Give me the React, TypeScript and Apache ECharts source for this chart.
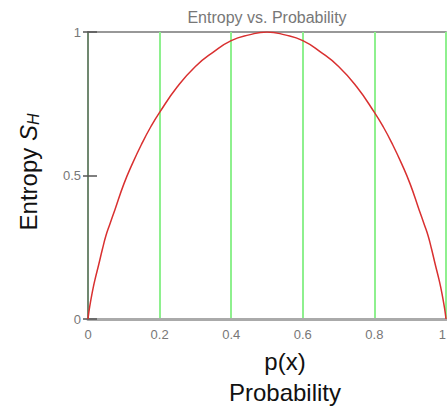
import React, { useEffect, useRef } from "react";
import * as echarts from "echarts";

const pValues = [0, 0.0025, 0.005, 0.01, 0.015, 0.02, 0.03, 0.04, 0.05, 0.06, 0.075, 0.1, 0.125, 0.15, 0.175, 0.2, 0.25, 0.3, 0.35, 0.4, 0.45, 0.5, 0.55, 0.6, 0.65, 0.7, 0.75, 0.8, 0.825, 0.85, 0.875, 0.9, 0.925, 0.94, 0.95, 0.96, 0.97, 0.98, 0.985, 0.99, 0.995, 0.9975, 1];
const entropyValues = [0, 0.025, 0.045, 0.08, 0.112, 0.14, 0.19, 0.242, 0.29, 0.327, 0.38, 0.47, 0.544, 0.61, 0.669, 0.72, 0.81, 0.88, 0.93, 0.97, 0.99, 1.0, 0.99, 0.97, 0.93, 0.88, 0.81, 0.72, 0.669, 0.61, 0.544, 0.47, 0.38, 0.327, 0.29, 0.242, 0.19, 0.14, 0.112, 0.08, 0.045, 0.025, 0];
const xTicks = [0, 0.2, 0.4, 0.6, 0.8, 1];
const yTicks = [0, 0.5, 1];
const titleText = "Entropy vs. Probability";
const xNameLines = ["p(x)", "Probability"];

export default function App() {
  const ref = useRef<HTMLDivElement>(null);
  useEffect(() => {
    if (!ref.current) return;
    const chart = echarts.init(ref.current, undefined, { renderer: "svg" });
    const gridLeft = 88, gridRight = 1, gridTop = 32, gridBottom = 90;
    const plotCenterX = gridLeft + (447 - gridLeft - gridRight) / 2;
    chart.setOption({
      animation: false,
      backgroundColor: "#ffffff",
      grid: { left: gridLeft, right: gridRight, top: gridTop, bottom: gridBottom, containLabel: false, outerBoundsMode: "none", show: true, borderColor: "#777", borderWidth: 1.5, backgroundColor: "transparent" },
      xAxis: {
        type: "value",
        min: xTicks[0],
        max: xTicks[xTicks.length - 1],
        interval: 0.2,
        axisLine: { show: true, lineStyle: { color: "#aaa", width: 3 } },
        axisTick: { show: false },
        axisLabel: { color: "#777", fontSize: 13, fontFamily: "Liberation Sans, Arial", margin: 9, alignMaxLabel: "right" },
        splitLine: { show: true, lineStyle: { color: "#8ef08e", width: 2 } },
      },
      yAxis: [
        {
          type: "value",
          min: yTicks[0],
          max: yTicks[yTicks.length - 1],
          interval: 0.5,
          axisLine: { show: true, lineStyle: { color: "#666", width: 1.5 } },
          axisTick: { show: true, length: 5, lineStyle: { color: "#555", width: 1.5 } },
          axisLabel: { color: "#777", fontSize: 13, fontFamily: "Liberation Sans, Arial", margin: 7 },
          splitLine: { show: false },
        },
        {
          type: "value",
          position: "left",
          min: yTicks[0],
          max: yTicks[yTicks.length - 1],
          interval: 0.5,
          axisLine: { show: false },
          axisTick: { show: true, inside: true, length: 9, lineStyle: { color: "#555", width: 1.5 } },
          axisLabel: { show: false },
          splitLine: { show: false },
        },
      ],
      series: [
        {
          type: "line",
          data: pValues.map((p, i) => [p, entropyValues[i]]),
          smooth: 0.5,
          showSymbol: false,
          lineStyle: { color: "#d93030", width: 1.5 },
          z: 5,
        },
      ],
      graphic: [
        {
          type: "text",
          x: plotCenterX,
          y: 17,
          style: { text: titleText, fill: "#777", fontSize: 16, fontFamily: "Liberation Sans, Arial", align: "center", verticalAlign: "middle" },
        },
        {
          type: "text",
          x: 285,
          y: 361,
          style: { text: xNameLines[0], fill: "#111", fontSize: 24, fontFamily: "Liberation Sans, Arial", align: "center", verticalAlign: "middle" },
        },
        {
          type: "text",
          x: 285,
          y: 392,
          style: { text: xNameLines[1], fill: "#111", fontSize: 24, fontFamily: "Liberation Sans, Arial", align: "center", verticalAlign: "middle" },
        },
        {
          type: "text",
          x: 28,
          y: 172,
          rotation: Math.PI / 2,
          style: {
            text: "Entropy {s|S}{h|H}",
            fill: "#111",
            fontSize: 24,
            fontFamily: "Liberation Sans, Arial",
            align: "center",
            verticalAlign: "middle",
            rich: {
              s: { fontSize: 24, fontStyle: "italic", fill: "#111", fontFamily: "Liberation Sans, Arial" },
              h: { fontSize: 16, fontStyle: "italic", fill: "#111", fontFamily: "Liberation Sans, Arial", verticalAlign: "bottom", padding: [10, 0, 0, 0] },
            },
          },
        },
      ],
    });
    return () => chart.dispose();
  }, []);
  return <div ref={ref} style={{ position: "fixed", left: 0, top: 0, width: 447, height: 409 }} />;
}
